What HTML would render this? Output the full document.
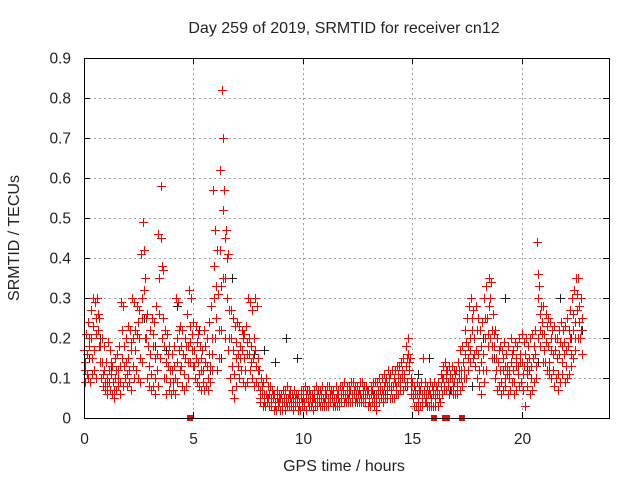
<!DOCTYPE html>
<html><head><meta charset="utf-8"><style>
body{margin:0;background:#fff;}
svg{display:block;font-family:"Liberation Sans",sans-serif;}
</style></head><body>
<svg id="chart" width="640" height="480">
<rect width="640" height="480" fill="#fff"/>
<text x="344" y="33" font-size="16" text-anchor="middle" fill="#222">Day 259 of 2019, SRMTID for receiver cn12</text>
<text x="0" y="0" font-size="16" text-anchor="middle" fill="#222" transform="translate(19,238) rotate(-90)">SRMTID / TECUs</text>
<text x="344" y="471" font-size="16" text-anchor="middle" fill="#222">GPS time / hours</text>
<g id="grid"></g>
<g id="ticks"></g>
<g id="marks"></g>
<rect x="84.5" y="58.5" width="525" height="360" fill="none" stroke="#000" stroke-width="1"/>
</svg>
<script>
const xTicks=[0,5,10,15,20];
const yTicks=[0,0.1,0.2,0.3,0.4,0.5,0.6,0.7,0.8,0.9];
const yTickLabels=["0","0.1","0.2","0.3","0.4","0.5","0.6","0.7","0.8","0.9"];
const redHours=[];for(let i=0;i<228;i++)redHours.push(i/10);
const redHi=[.17,.21,.24,.27,.30,.29,.30,.25,.20,.18,
.14,.19,.17,.13,.15,.16,.18,.29,.28,.20,
.23,.22,.30,.29,.28,.27,.41,.49,.35,.26,
.22,.25,.24,.28,.46,.58,.37,.22,.21,.18,
.16,.18,.30,.29,.23,.22,.20,.26,.32,.30,
.24,.23,.21,.18,.17,.22,.20,.24,.28,.57,
.47,.42,.62,.82,.57,.47,.41,.27,.25,.23,
.24,.23,.22,.21,.23,.30,.29,.27,.30,.28,
.12,.10,.09,.10,.08,.08,.07,.06,.07,.06,
.06,.07,.07,.08,.07,.06,.07,.06,.06,.07,
.07,.08,.07,.07,.06,.07,.08,.07,.07,.08,
.07,.08,.08,.07,.07,.08,.07,.08,.08,.09,
.08,.08,.09,.09,.08,.08,.09,.09,.08,.08,
.07,.08,.09,.09,.09,.10,.10,.11,.10,.12,
.11,.12,.12,.13,.13,.14,.15,.18,.20,.15,
.09,.08,.09,.08,.09,.15,.09,.08,.09,.08,
.09,.08,.09,.11,.13,.14,.12,.13,.13,.12,
.12,.14,.17,.18,.22,.25,.28,.30,.27,.28,
.25,.22,.24,.30,.33,.35,.34,.26,.22,.20,
.18,.17,.19,.16,.18,.20,.17,.19,.18,.20,
.21,.19,.20,.18,.20,.21,.22,.44,.33,.28,
.28,.26,.25,.24,.22,.23,.20,.22,.24,.22,
.23,.25,.27,.30,.32,.35,.35,.30];
const redMid=[.12,.16,.18,.20,.23,.25,.22,.18,.14,.12,
.10,.12,.11,.09,.10,.12,.13,.15,.18,.14,
.15,.17,.20,.22,.21,.20,.30,.42,.25,.18,
.16,.18,.15,.16,.35,.45,.25,.14,.13,.12,
.12,.13,.20,.22,.18,.16,.15,.18,.23,.21,
.17,.15,.14,.12,.12,.14,.13,.16,.20,.38,
.33,.31,.42,.70,.45,.40,.27,.20,.17,.15,
.16,.18,.17,.15,.16,.20,.18,.15,.17,.15,
.07,.06,.06,.06,.05,.05,.05,.04,.05,.04,
.04,.04,.05,.05,.05,.04,.05,.04,.04,.05,
.05,.05,.05,.05,.04,.05,.05,.05,.05,.05,
.05,.05,.06,.05,.05,.05,.05,.06,.06,.06,
.06,.06,.06,.06,.06,.06,.06,.06,.06,.06,
.05,.06,.06,.06,.07,.07,.07,.08,.08,.08,
.08,.08,.09,.09,.10,.10,.11,.13,.16,.10,
.06,.06,.06,.06,.06,.07,.06,.06,.06,.06,
.06,.06,.06,.08,.10,.10,.09,.10,.10,.09,
.09,.10,.12,.14,.16,.18,.20,.22,.20,.17,
.16,.14,.16,.20,.25,.28,.22,.18,.15,.14,
.12,.12,.13,.11,.12,.14,.12,.13,.13,.14,
.14,.13,.14,.12,.13,.15,.16,.30,.26,.21,
.21,.19,.18,.17,.16,.17,.15,.16,.18,.16,
.17,.18,.20,.22,.24,.27,.28,.22];
const redLo=[.09,.10,.09,.11,.12,.10,.18,.10,.08,.07,
.06,.07,.06,.05,.07,.08,.06,.08,.10,.08,
.09,.07,.10,.12,.10,.09,.14,.20,.10,.08,
.07,.08,.06,.08,.15,.20,.10,.06,.07,.06,
.07,.06,.09,.12,.08,.07,.08,.10,.14,.13,
.10,.09,.08,.07,.07,.08,.07,.09,.12,.20,
.12,.15,.22,.35,.20,.17,.10,.07,.05,.08,
.10,.12,.09,.08,.09,.12,.10,.08,.09,.08,
.04,.03,.03,.04,.03,.03,.02,.02,.03,.02,
.02,.02,.03,.03,.03,.02,.03,.02,.02,.03,
.03,.02,.03,.03,.02,.03,.03,.03,.03,.03,
.03,.03,.04,.03,.03,.03,.03,.04,.04,.04,
.04,.04,.04,.04,.04,.04,.04,.04,.04,.03,
.03,.04,.03,.02,.04,.05,.04,.05,.05,.05,
.05,.05,.06,.06,.07,.07,.08,.09,.12,.06,
.03,.03,.02,.03,.03,.04,.03,.03,.03,.03,
.03,.03,.04,.06,.07,.07,.06,.07,.06,.06,
.06,.07,.08,.10,.10,.12,.14,.15,.13,.10,
.08,.06,.09,.12,.18,.20,.15,.10,.07,.08,
.06,.07,.08,.06,.07,.09,.06,.07,.08,.09,
.07,.03,.08,.06,.07,.09,.10,.20,.18,.14,
.14,.12,.11,.10,.08,.10,.07,.09,.11,.09,
.10,.11,.13,.15,.17,.20,.20,.16];
const redExtra=[.14,.11,.20,.15,.17,.21,.26,.14,.11,.09,
.08,.09,.14,.07,.12,.10,.09,.22,.13,.11,
.12,.19,.13,.17,.24,.15,.25,.32,.20,.13,
.11,.21,.10,.12,.26,.38,.18,.10,.16,.09,
.09,.10,.14,.17,.13,.11,.18,.14,.19,.17,
.13,.19,.11,.15,.09,.18,.10,.13,.16,.30,
.25,.22,.33,.52,.35,.30,.20,.13,.11,.19,
.13,.15,.20,.12,.19,.16,.14,.20,.13,.12,
.05,.08,.04,.05,.06,.04,.06,.03,.04,.05,
.03,.05,.04,.06,.04,.05,.04,.05,.03,.04,
.04,.06,.04,.06,.05,.04,.06,.04,.06,.04,
.06,.04,.05,.06,.04,.06,.04,.05,.07,.05,
.05,.07,.05,.07,.05,.07,.05,.07,.05,.07,
.04,.07,.05,.04,.06,.08,.06,.09,.07,.10,
.07,.10,.08,.11,.09,.12,.10,.15,.14,.08,
.05,.07,.04,.07,.05,.06,.04,.07,.05,.07,
.05,.07,.05,.10,.08,.12,.08,.11,.08,.11,
.08,.12,.10,.12,.19,.15,.17,.25,.16,.22,
.12,.18,.12,.25,.21,.30,.18,.21,.12,.17,
.09,.15,.10,.13,.10,.16,.09,.15,.11,.16,
.11,.16,.11,.15,.10,.18,.13,.36,.22,.24,
.17,.23,.14,.20,.12,.20,.11,.19,.14,.19,
.13,.22,.16,.26,.20,.31,.24,.25];
const blackHours=[];for(let i=0;i<46;i++)blackHours.push(0.25+i*0.5);
const blackVals=[.15,.20,.12,.15,.20,.25,.18,.17,.28,.14,
.22,.12,.15,.35,.21,.16,.17,.14,.20,.15,
.05,.04,.05,.04,.06,.05,.06,.06,.07,.08,
.11,.15,.06,.07,.12,.08,.20,.15,.30,.15,
.13,.14,.12,.30,.20,.22];
const zeroHours=[4.85,16.0,16.5,16.6,17.3];
const NS='http://www.w3.org/2000/svg';
const X0=84,X1=609,Y0=418,Y1=58;
const xs=h=>X0+h/24*(X1-X0);
const ys=v=>Y0-v/0.9*(Y0-Y1);
const grid=document.getElementById('grid'),ticks=document.getElementById('ticks'),marks=document.getElementById('marks');
function mk(tag,attrs,parent){const e=document.createElementNS(NS,tag);for(const k in attrs)e.setAttribute(k,attrs[k]);parent.appendChild(e);return e;}
yTicks.forEach((v,i)=>{
 const y=Math.round(ys(v))+0.5;
 if(i>0&&i<yTicks.length-1){const g=mk('line',{x1:X0,x2:X1,y1:y,y2:y,stroke:'#a0a0a0','stroke-dasharray':'2,3'},grid);
 
 }
 const t=mk('line',{x1:X0,x2:X0+6,y1:y,y2:y,stroke:'#000'},ticks);
 
 
 const t2=mk('line',{x1:X1-6,x2:X1,y1:y,y2:y,stroke:'#000'},ticks);
 
 
 const l=mk('text',{x:X0-13,y:y+5,'font-size':15.5,'text-anchor':'end',fill:'#222'},ticks);
 l.textContent=yTickLabels[i];
 
 
});
xTicks.forEach(h=>{
 const x=Math.round(xs(h))+0.5;
 if(h>0){const g=mk('line',{x1:x,x2:x,y1:Y1,y2:Y0,stroke:'#a0a0a0','stroke-dasharray':'2,3'},grid);
 
 }
 const t=mk('line',{x1:x,x2:x,y1:Y0,y2:Y0-6,stroke:'#000'},ticks);
 
 
 const t2=mk('line',{x1:x,x2:x,y1:Y1,y2:Y1+6,stroke:'#000'},ticks);
 
 
 const l=mk('text',{x:x,y:Y0+26,'font-size':15.5,'text-anchor':'middle',fill:'#222'},ticks);
 l.textContent=String(h);
 
 
});
function plus(hours,vals,off,color,name){
 let d='';
 for(let i=0;i<vals.length;i++){const x=Math.round(xs(hours[i]+off))+0.5,y=Math.round(ys(vals[i]))+0.5;d+=`M${x-4.5},${y}h9M${x},${y-4.5}v9`;}
 const p=mk('path',{d:d,stroke:color,'stroke-width':1.2,fill:'none','shape-rendering':'crispEdges'},marks);
 
 
}
plus(blackHours,blackVals,0,'#222','series-black-points');
plus(redHours,redHi,0,'#ff0000','series-red-upper');
plus(redHours,redMid,0.033,'#ff0000','series-red-middle');
plus(redHours,redExtra,0.05,'#ff0000','series-red-extra');
plus(redHours,redLo,0.066,'#ff0000','series-red-lower');
zeroHours.forEach(h=>{
 const r=mk('rect',{x:Math.round(xs(h))-3,y:Y0-3,width:6,height:6,fill:'#ff0000'},marks);
 
 
});
</script>
</body></html>
